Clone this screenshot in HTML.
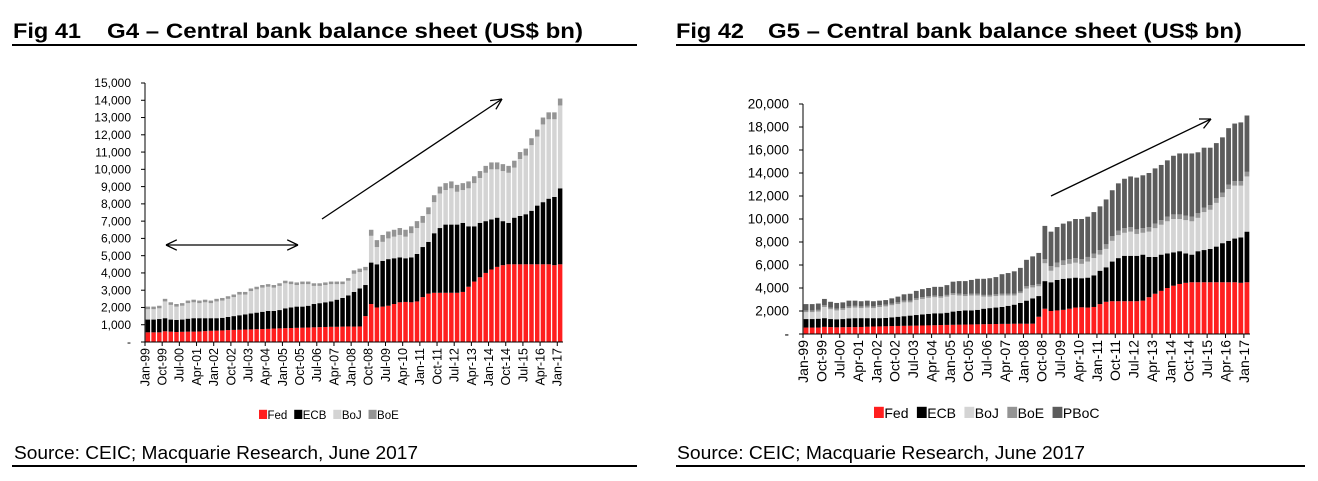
<!DOCTYPE html>
<html><head><meta charset="utf-8">
<style>
html,body{margin:0;padding:0;background:#fff;}
body{width:1318px;height:476px;overflow:hidden;font-family:"Liberation Sans",Arial,sans-serif;}
svg text{font-family:"Liberation Sans",Arial,sans-serif;}
</style></head>
<body>
<svg id="root" width="1318" height="476" viewBox="0 0 1318 476" xmlns="http://www.w3.org/2000/svg">
  <g>
    <text x="13" y="38" font-size="21" font-weight="bold" textLength="68" lengthAdjust="spacingAndGlyphs">Fig 41</text>
    <text x="107" y="38" font-size="21" font-weight="bold" textLength="476" lengthAdjust="spacingAndGlyphs">G4 – Central bank balance sheet (US$ bn)</text>
    <rect x="12" y="44" width="625" height="2" fill="#000"/>
  </g>
  <g>
    <text x="676" y="38" font-size="21" font-weight="bold" textLength="68" lengthAdjust="spacingAndGlyphs">Fig 42</text>
    <text x="768" y="38" font-size="21" font-weight="bold" textLength="474" lengthAdjust="spacingAndGlyphs">G5 – Central bank balance sheet (US$ bn)</text>
    <rect x="676" y="44" width="629" height="2" fill="#000"/>
  </g>
  <text x="14" y="459" font-size="18" textLength="404" lengthAdjust="spacingAndGlyphs">Source: CEIC; Macquarie Research, June 2017</text>
  <rect x="12" y="465" width="625" height="2" fill="#000"/>
  <text x="677" y="459" font-size="18" textLength="408" lengthAdjust="spacingAndGlyphs">Source: CEIC; Macquarie Research, June  2017</text>
  <rect x="676" y="465" width="629" height="2" fill="#000"/>
  <g id="chart1"></g>
  <g id="chart2"></g>
</svg>
<script>
// Quarterly data Q1-1999 .. Q1-2017 (US$ bn)
const fed = [560,560,560,620, 600,580,590,600, 600,610,630,650, 660,670,690,700, 710,720,730,740, 750,760,780,790, 800,810,820,830, 840,850,860,870, 880,880,890,900, 890,900,1500,2200, 2000,2050,2100,2200, 2300,2320,2300,2350, 2600,2800,2850,2850, 2850,2850,2850,2900, 3200,3500,3750,4000, 4200,4350,4450,4500, 4500,4500,4500,4500, 4500,4500,4500,4450, 4500];
const ecb = [740,740,770,760, 700,700,710,750, 780,770,750,730, 720,730,760,800, 840,880,920,960, 1000,1040,1020,1060, 1150,1190,1230,1220, 1260,1350,1390,1430, 1470,1570,1660,1800, 2010,2200,1800,2400, 2500,2650,2700,2650, 2600,2530,2600,2750, 2900,3000,3450,3750, 3950,3950,3950,4000, 3500,3200,3150,3000, 2900,2850,2550,2400, 2700,2800,2900,3100, 3400,3600,3800,3950, 4400];
const boj = [600,600,620,970, 850,770,800,900, 920,870,920,870, 970,1000,1050,1100, 1200,1150,1300,1350, 1400,1400,1350,1400, 1450,1350,1250,1300, 1250,1050,1000,1000, 1000,900,800,850, 1050,950,850,1550, 1000,1100,1200,1250, 1300,1250,1400,1500, 1400,1600,1800,2000, 2000,2100,1900,1900, 2200,2500,2600,2800, 2900,2800,2900,2900, 2900,3300,3400,3800, 4000,4500,4600,4500, 4800];
const boe = [150,150,150,150, 150,150,150,150, 150,150,150,150, 150,150,150,150, 150,150,150,150, 150,150,150,150, 150,150,150,150, 150,150,150,150, 150,150,150,150, 200,200,200,350, 400,400,400,400, 400,400,400,400, 400,400,400,400, 400,400,400,400, 400,400,400,400, 400,400,400,400, 400,400,400,400, 400,400,400,400, 400];
const pboc = [550,550,550,550, 500,500,500,500, 450,450,450,450, 400,400,450,500, 550,600,650,700, 700,750,800,850, 1000,1100,1150,1200, 1300,1400,1450,1500, 1700,1800,1950,2050, 2300,2500,2700,2900, 3000,3100,3200,3300, 3400,3500,3500,3600, 3800,3900,4000,4100, 4300,4400,4500,4600, 4700,4800,4800,4900, 5100,5300,5400,5500, 5300,5200,5000,4800, 4800,4900,5000,5100, 4900];
const xLabels = ["Jan-99","Oct-99","Jul-00","Apr-01","Jan-02","Oct-02","Jul-03","Apr-04","Jan-05","Oct-05","Jul-06","Apr-07","Jan-08","Oct-08","Jul-09","Apr-10","Jan-11","Oct-11","Jul-12","Apr-13","Jan-14","Oct-14","Jul-15","Apr-16","Jan-17"];
const yTicks1 = [0,1000,2000,3000,4000,5000,6000,7000,8000,9000,10000,11000,12000,13000,14000,15000];
const yTicks2 = [0,2000,4000,6000,8000,10000,12000,14000,16000,18000,20000];
const names1 = ["Fed","ECB","BoJ","BoE"];
const names2 = ["Fed","ECB","BoJ","BoE","PBoC"];

const NS="http://www.w3.org/2000/svg";
const COLORS={Fed:"#ff1f1f",ECB:"#000000",BoJ:"#d4d4d4",BoE:"#949494",PBoC:"#5c5c5c"};
const SERIES={Fed:fed,ECB:ecb,BoJ:boj,BoE:boe,PBoC:pboc};
function mk(tag,attrs,parent){const e=document.createElementNS(NS,tag);for(const k in attrs)e.setAttribute(k,attrs[k]);parent.appendChild(e);return e;}

function drawChart(g,cfg){
  const {x0,x1,y0,yTop,ymax,ticks,names,fs,lfs,legY,legX}=cfg;
  const yScale=v=>y0-(v/ymax)*(y0-yTop);
  const n=fed.length, totalMonths=n*3;
  const xScale=m=>x0+(m/totalMonths)*(x1-x0);
  const step=(x1-x0)/n, bw=step*0.78;
  ticks.forEach(t=>{
    const lab=mk('text',{x:x0-14,y:yScale(t)+fs*0.35,'font-size':fs,'text-anchor':'end',fill:'#000'},g);
    
    
    lab.textContent=t===0?"-":t.toLocaleString('en-US');
    const tk=mk('line',{x1:x0-4,x2:x0,y1:yScale(t),y2:yScale(t),stroke:'#000','stroke-width':1},g);
    
    
  });
  for(let i=0;i<n;i++){
    let cum=0;
    names.forEach(s=>{
      const v=SERIES[s][i];
      const r=mk('rect',{x:x0+i*step+(step-bw)/2,y:yScale(cum+v),width:bw,height:yScale(cum)-yScale(cum+v),fill:COLORS[s]},g);
      
      
      cum+=v;
    });
  }
  const ya=mk('line',{x1:x0,x2:x0,y1:yTop,y2:y0,stroke:'#000','stroke-width':1},g);
  
  
  const xa=mk('line',{x1:x0,x2:x1,y1:y0,y2:y0,stroke:'#000','stroke-width':1},g);
  
  
  xLabels.forEach((l,i)=>{
    const x=xScale(i*9);
    const tk=mk('line',{x1:x,x2:x,y1:y0,y2:y0+4,stroke:'#000','stroke-width':1},g);
    
    
    const t=mk('text',{x:0,y:0,'font-size':cfg.xfs,'text-anchor':'end',transform:`translate(${x+cfg.xfs*0.35},${y0+6}) rotate(-90)`},g);
    
    
    t.textContent=l;
  });
  let lx=legX;
  names.forEach(s=>{
    const lg=mk('g',{},g);
    
    
    mk('rect',{x:lx,y:legY-lfs*0.8,width:lfs*0.7,height:lfs*0.8,fill:COLORS[s]},lg);
    const t=mk('text',{x:lx+lfs*0.74,y:legY,'font-size':lfs},lg);
    t.textContent=s;
    lx+=lfs*0.74+t.getComputedTextLength()+lfs*0.6;
  });
}
drawChart(document.getElementById('chart1'),{x0:145,x1:563,y0:342,yTop:83,ymax:15000,ticks:yTicks1,names:names1,fs:12,xfs:12.5,lfs:11.5,legY:419,legX:259});
drawChart(document.getElementById('chart2'),{x0:803,x1:1250,y0:334,yTop:104,ymax:20000,ticks:yTicks2,names:names2,fs:13.5,xfs:14,lfs:14,legY:418,legX:874});

function arrow(x1,y1,x2,y2,both,name){
  const g=mk('g',{},document.getElementById('root'));
  
  
  mk('line',{x1,y1,x2,y2,stroke:'#000','stroke-width':1.3},g);
  const head=(ax,ay,bx,by)=>{const a=Math.atan2(by-ay,bx-ax),L=12;
    [0.45,-0.45].forEach(d=>mk('line',{x1:bx,y1:by,x2:bx-L*Math.cos(a+d),y2:by-L*Math.sin(a+d),stroke:'#000','stroke-width':1.3},g));};
  head(x1,y1,x2,y2); if(both)head(x2,y2,x1,y1);
}
arrow(166,245,298,245,true,'flat-period-arrow');
arrow(322,219,502,99,false,'g4-trend-arrow');
arrow(1051,196,1211,119,false,'g5-trend-arrow');
</script>
</body></html>
